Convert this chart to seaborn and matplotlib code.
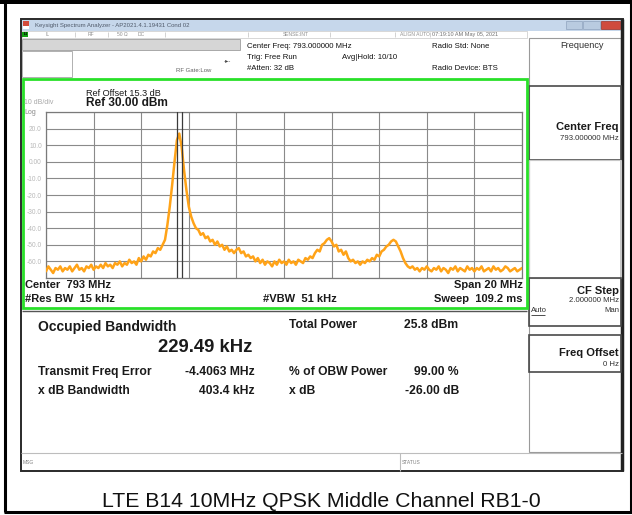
import numpy as np
import pandas as pd
import matplotlib
matplotlib.use("Agg")
import matplotlib.pyplot as plt
import seaborn as sns
from matplotlib.patches import Rectangle

# ---------------- data ----------------
freq_start_mhz = 783.0
freq_stop_mhz = 803.0
trace_dbm = [
    -66, -63, -65, -67, -64, -65, -63, -66, -64, -65,
    -63, -66, -64, -62, -65, -64, -66, -63, -64, -62, -65,
    -63, -64, -62, -64, -61, -63, -62, -64, -61, -62,
    -60, -63, -61, -62, -59, -61, -60, -62, -58, -60,
    -57, -59, -56, -57, -54, -55, -52, -53, -50, -47,
    -38, -27, -14, 0, 13, 17, 9, -5, -17, -27,
    -33, -37, -40, -41, -44, -43, -46, -45, -48, -47,
    -50, -48, -51, -50, -53, -51, -54, -53, -55, -53,
    -52, -55, -54, -57, -56, -58, -57, -60, -58, -61,
    -59, -62, -60, -61, -63, -60, -62, -59, -61, -60,
    -62, -59, -61, -60, -62, -59, -60, -61, -58, -59,
    -57, -58, -55, -53, -54, -50, -49, -47, -46, -48,
    -51, -50, -54, -53, -56, -54, -58, -60, -59, -61,
    -60, -62, -60, -61, -59, -60, -58, -59, -56, -57,
    -54, -53, -51, -50, -48, -47, -48, -51, -54, -58,
    -61, -63, -64, -63, -65, -64, -66, -64, -65, -63,
    -65, -66, -64, -65, -63, -66, -64, -65, -67, -64,
    -65, -63, -66, -64, -65, -66, -63, -65, -64, -66,
    -64, -65, -63, -66, -65, -64, -66, -63, -65, -64,
    -66, -65, -63, -64, -66, -65, -64, -66, -65, -64,
]
grid_freq_mhz = [783, 785, 787, 789, 791, 793, 795, 797, 799, 801, 803]
grid_levels = [-70, -60, -50, -40, -30, -20, -10, 0, 10, 20, 30]
level_tick_labels = ["", "-60.0", "-50.0", "-40.0", "-30.0", "-20.0",
                     "-10.0", "0.00", "10.0", "20.0", ""]
obw_edges_mhz = [788.49, 788.72]

# ---------------- style ----------------
sns.set_style("white")
plt.rcParams['font.family'] = ['Liberation Sans', 'DejaVu Sans']

W, H = 632, 515
fig = plt.figure(figsize=(W / 100, H / 100), dpi=100)
bg = fig.add_axes([0, 0, 1, 1])
bg.set_xlim(0, W)
bg.set_ylim(H, 0)
bg.axis('off')
bg.set_zorder(0)


def rect(x0, y0, x1, y1, fc='none', ec='none', lw=1.0, z=1):
    bg.add_patch(Rectangle((x0, y0), x1 - x0, y1 - y0, facecolor=fc,
                           edgecolor=ec, linewidth=lw, zorder=z))


def line(x0, y0, x1, y1, c='#333333', lw=1.0, z=3):
    bg.plot([x0, x1], [y0, y1], color=c, lw=lw, zorder=z, solid_capstyle='butt')


def txt(x, y, s, size=7, ha='left', va='center', color='#1a1a1a', weight='normal', z=5, **kw):
    bg.text(x, y, s, fontsize=size, ha=ha, va=va, color=color,
            fontweight=weight, zorder=z, **kw)


# outer frame
rect(0, 0, W, 3.5, fc='black', z=2)
line(5, 2, 5, 512, c='black', lw=2.2)
line(4, 511.5, W, 511.5, c='black', lw=2.2)
line(631, 2, 631, 512, c='black', lw=2.2)

# screenshot window
rect(21, 19, 623, 471, fc='white', ec='#2a2a2a', lw=1.4, z=1)
line(622, 19, 622, 471, c='#222222', lw=2.5)

# title bar
rect(21.5, 19.5, 622, 31, fc='#c6d7eb', z=2)
rect(23, 21, 29, 29, fc='#d24a3c', z=3)
rect(23, 26, 29, 29, fc='#ffffff', z=3)
txt(35, 25.5, "Keysight Spectrum Analyzer - AP2021.4.1.19431 Cond 02", size=4.3, color='#505a6a')
rect(566, 20.5, 582, 29, fc='#b9cbe0', ec='#8fa3bd', lw=0.5, z=3)
rect(583, 20.5, 600, 29, fc='#b9cbe0', ec='#8fa3bd', lw=0.5, z=3)
rect(601, 20.5, 620, 29, fc='#cf4b3e', ec='#9a3028', lw=0.5, z=3)

# status row
rect(21.5, 31, 527, 37.5, fc='white', ec='#c8c8c8', lw=0.5, z=2)
rect(22, 31.5, 28, 37, fc='#10a010', z=3)
for sx in [75, 108, 165, 248, 330, 395, 430]:
    line(sx, 31.5, sx, 37, c='#c0c0c0', lw=0.5)
txt(24, 34.3, "LI", size=3.2, color='black', weight='bold')
txt(45, 34.3, "IL", size=3.6, color='#909090')
txt(88, 34.3, "RF", size=3.6, color='#909090')
txt(117, 34.3, "50 \u03a9", size=3.6, color='#909090')
txt(138, 34.3, "DC", size=3.6, color='#909090')
txt(283, 34.3, "SENSE:INT", size=3.6, color='#909090')
txt(400, 34.3, "ALIGN AUTO", size=3.6, color='#909090')
txt(432, 34.3, "07:19:10 AM May 05, 2021", size=4.0, color='#707070')

# left header boxes
rect(22, 38.5, 240, 50, fc='#d6d6d6', ec='#a8a8a8', lw=0.7, z=2)
rect(22, 50.5, 72, 77, fc='white', ec='#b0b0b0', lw=0.7, z=2)
txt(176, 70, "RF Gate:Low", size=4.3, color='#606060')
txt(224, 61, "-\u25b8-", size=4.5, color='#404040')

# header texts
txt(247, 47, "Center Freq: 793.000000 MHz", size=5.6, color='#111111')
txt(247, 57.5, "Trig: Free Run", size=5.6, color='#111111')
txt(342, 57.5, "Avg|Hold: 10/10", size=5.6, color='#111111')
txt(247, 68, "#Atten: 32 dB", size=5.6, color='#111111')
txt(432, 47, "Radio Std: None", size=5.6, color='#111111')
txt(432, 68.5, "Radio Device: BTS", size=5.6, color='#111111')

# green measurement frame
rect(22.5, 78.5, 526.5, 307.5, fc='none', ec='#29e029', lw=2.0, z=4)

# annotations around trace
txt(24, 103, "10 dB/div", size=5.0, color='#a8a8a8')
txt(24, 112.5, "Log", size=5.0, color='#8a8a8a')
txt(86, 93.5, "Ref Offset 15.3 dB", size=6.6)
txt(86, 103.5, "Ref 30.00 dBm", size=8.6, weight='bold')
txt(25, 285, "Center  793 MHz", size=8, weight='bold')
txt(25, 299, "#Res BW  15 kHz", size=8, weight='bold')
txt(300, 299, "#VBW  51 kHz", size=8, weight='bold', ha='center')
txt(523, 285, "Span 20 MHz", size=8, weight='bold', ha='right')
txt(523, 299, "Sweep  109.2 ms", size=8, weight='bold', ha='right')

# lower result area
line(22, 311, 527, 311, c='#555555', lw=1.0)
txt(38, 327, "Occupied Bandwidth", size=10, weight='bold')
txt(158, 347, "229.49 kHz", size=13.3, weight='bold')
txt(289, 325, "Total Power", size=8.7, weight='bold')
txt(458, 325, "25.8 dBm", size=8.7, weight='bold', ha='right')
txt(38, 372, "Transmit Freq Error", size=8.7, weight='bold')
txt(255, 372, "-4.4063 MHz", size=8.7, weight='bold', ha='right')
txt(289, 372, "% of OBW Power", size=8.7, weight='bold')
txt(459, 372, "99.00 %", size=8.7, weight='bold', ha='right')
txt(38, 391, "x dB Bandwidth", size=8.7, weight='bold')
txt(255, 391, "403.4 kHz", size=8.7, weight='bold', ha='right')
txt(289, 391, "x dB", size=8.7, weight='bold')
txt(459, 391, "-26.00 dB", size=8.7, weight='bold', ha='right')

# msg / status bar
line(21, 453, 622, 453, c='#bdbdbd', lw=0.8)
line(400, 453, 400, 471, c='#bdbdbd', lw=0.8)
txt(23, 462, "MSG", size=3.6, color='#808080')
txt(402, 462, "STATUS", size=3.6, color='#808080')

# right soft-key panel
rect(529, 37.5, 620.5, 452, fc='white', ec='#9a9a9a', lw=0.8, z=2)
rect(529, 86, 620.5, 160, fc='none', ec='#4a4a4a', lw=1.2, z=3)
rect(529, 160, 620.5, 278, fc='none', ec='#c8c8c8', lw=0.8, z=3)
rect(529, 278, 620.5, 326, fc='none', ec='#4a4a4a', lw=1.2, z=3)
rect(529, 335, 620.5, 372, fc='none', ec='#4a4a4a', lw=1.2, z=3)
txt(582, 45.5, "Frequency", size=6.6, ha='center', color='#303030')
txt(619, 127, "Center Freq", size=8, weight='bold', ha='right')
txt(619, 139, "793.000000 MHz", size=5.6, ha='right', color='#303030')
txt(619, 291, "CF Step", size=8, weight='bold', ha='right')
txt(619, 301, "2.000000 MHz", size=5.6, ha='right', color='#303030')
txt(531, 311, "Auto", size=5.6, color='#303030')
line(531, 315, 545, 315, c='#303030', lw=0.6, z=6)
txt(619, 311, "Man", size=5.6, ha='right', color='#303030')
txt(619, 353, "Freq Offset", size=8, weight='bold', ha='right')
txt(619, 365, "0 Hz", size=5.6, ha='right', color='#303030')

# caption
txt(321, 507, "LTE B14 10MHz QPSK Middle Channel RB1-0", size=15.3,
    va='baseline', ha='center', color='#111111')

# ---------------- spectrum trace ----------------
n = len(trace_dbm)
freq = [freq_start_mhz + (freq_stop_mhz - freq_start_mhz) * i / (n - 1) for i in range(n)]
df = pd.DataFrame({"freq_mhz": freq, "level_dbm": trace_dbm})

ax = fig.add_axes([46 / W, 1 - 278 / H, 476 / W, 166 / H])
ax.set_zorder(3)
ax.set_facecolor('white')
sns.lineplot(data=df, x="freq_mhz", y="level_dbm", ax=ax, color='#FFA318',
             lw=1.8, zorder=3)
for f in obw_edges_mhz:
    ax.axvline(f, color='#3a3a3a', lw=0.9, zorder=4)
ax.set_xlim(freq_start_mhz, freq_stop_mhz)
ax.set_ylim(-70, 30)
ax.set_xticks(grid_freq_mhz)
ax.set_xticklabels([])
ax.set_yticks(grid_levels)
ax.set_yticklabels(level_tick_labels)
ax.set_axisbelow(True)
ax.grid(True, color='#8a8a8a', lw=0.8)
ax.tick_params(length=0, labelsize=4.8, colors='#b8b8b8', pad=3)
for sp in ax.spines.values():
    sp.set_color('#7a7a7a')
    sp.set_linewidth(0.9)
ax.set_xlabel("")
ax.set_ylabel("")

fig.savefig("out.png", dpi=100)
